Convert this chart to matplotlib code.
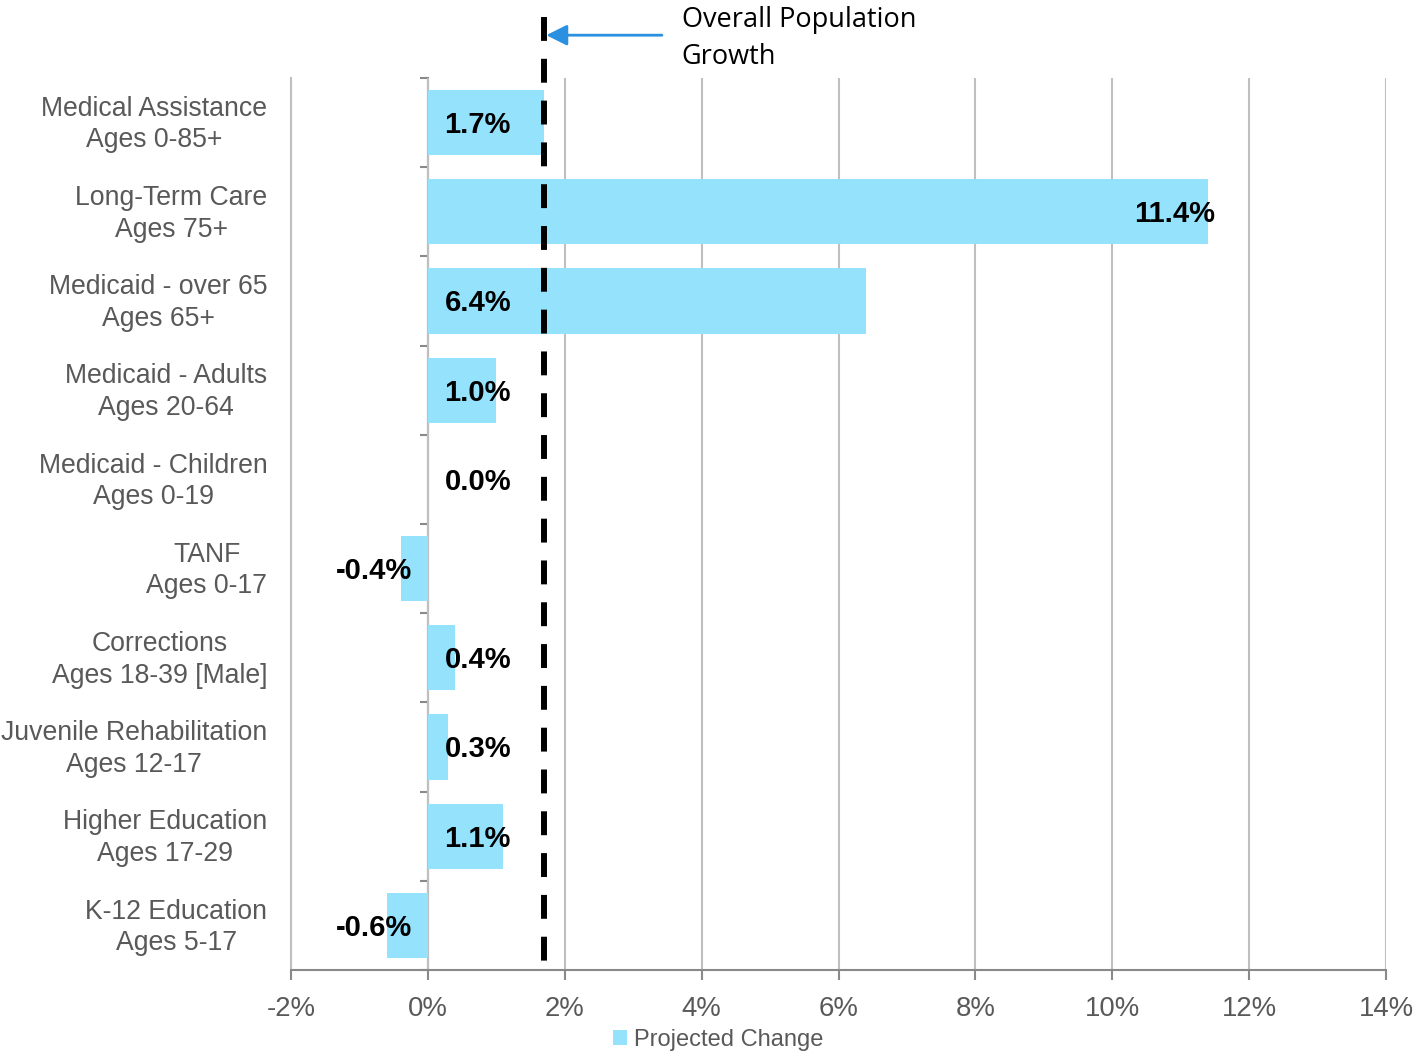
import matplotlib
matplotlib.use("Agg")
import matplotlib.pyplot as plt
from matplotlib.patches import Patch
from matplotlib.lines import Line2D
from matplotlib.ticker import FuncFormatter

categories = [
    "Medical Assistance\nAges 0-85+",
    "Long-Term Care\nAges 75+",
    "Medicaid - over 65\nAges 65+",
    "Medicaid - Adults\nAges 20-64",
    "Medicaid - Children\nAges 0-19",
    "TANF\nAges 0-17",
    "Corrections\nAges 18-39 [Male]",
    "Juvenile Rehabilitation\nAges 12-17",
    "Higher Education\nAges 17-29",
    "K-12 Education\nAges 5-17",
]
values = [1.7, 11.4, 6.4, 1.0, 0.0, -0.4, 0.4, 0.3, 1.1, -0.6]
overall_growth = 1.7
x_ticks = [-2, 0, 2, 4, 6, 8, 10, 12, 14]
series_name = "Projected Change"
annotation_text = "Overall Population\nGrowth"

label_font = ["Liberation Sans", "DejaVu Sans"]
value_font = ["Liberation Sans", "DejaVu Sans"]
note_font = ["Open Sans", "DejaVu Sans"]

BAR = "#95E2FD"
GREY_TXT = "#595959"
AXIS = "#898989"
GRID = "#BFBFBF"

fig = plt.figure(figsize=(14.16, 10.52), dpi=100)
ax = fig.add_axes([291/1416, 1-970/1052, (1386-291)/1416, (970-78)/1052])

ypos = list(range(len(categories)))
ax.barh(ypos, values, height=0.73, color=BAR, zorder=3)

ax.set_xlim(x_ticks[0], x_ticks[-1])
ax.set_ylim(len(categories)-0.5, -0.5)
ax.set_xticks(x_ticks)
ax.xaxis.set_major_formatter(FuncFormatter(lambda v, p: f"{v:.0f}%"))
ax.set_yticks(ypos)
ax.set_yticklabels(categories, ha="right")
for lab in ax.get_yticklabels():
    lab.set_multialignment("center")
    lab.set_linespacing(1.28)
    lab.set_verticalalignment("center")
ax.tick_params(axis="y", length=0, pad=17, labelsize=19.2, labelcolor=GREY_TXT)
ax.tick_params(axis="x", length=7, width=1.5, color=AXIS, pad=12, labelsize=19.8, labelcolor=GREY_TXT)
for lab in ax.get_xticklabels() + ax.get_yticklabels():
    lab.set_fontfamily(label_font)
    if lab in ax.get_yticklabels():
        pass

# nudge category labels slightly down to centre on the bars
import matplotlib.transforms as mtrans
offset = mtrans.ScaledTranslation(0, -2/100, fig.dpi_scale_trans)
for lab in ax.get_yticklabels():
    lab.set_transform(lab.get_transform() + offset)

ax.grid(axis="x", color=GRID, lw=1.5, zorder=0)
ax.grid(axis="y", visible=False)
for s in ["top", "right"]:
    ax.spines[s].set_visible(False)
ax.spines["left"].set_color(GRID)
ax.spines["left"].set_linewidth(1.5)
ax.spines["bottom"].set_color(AXIS)
ax.spines["bottom"].set_linewidth(1.5)

# vertical category axis at 0 with boundary ticks
xmin, xmax = ax.get_xlim()
sec = ax.secondary_yaxis((0 - xmin) / (xmax - xmin))
sec.set_yticks([i + 0.5 for i in range(-1, len(categories))])
sec.tick_params(axis="y", length=6, width=1.5, color=AXIS, labelleft=False, direction="out")
sec.spines["left"].set_color(AXIS)
sec.spines["left"].set_linewidth(1.5)
sec.spines["left"].set_zorder(4)

# value labels
vkw = dict(textcoords="offset points", va="center_baseline", fontsize=21,
           fontweight="bold", family=value_font, color="black", zorder=6)
for y, v in zip(ypos, values):
    if v == max(values):
        ax.annotate(f"{v:.1f}%", (v, y), xytext=(5, 0.5), ha="right", **vkw)
    elif v < 0:
        ax.annotate(f"{v:.1f}%", (0, y), xytext=(-11.5, 0.5), ha="right", **vkw)
    else:
        ax.annotate(f"{v:.1f}%", (0, y), xytext=(12, 0.5), ha="left", **vkw)

# overall population growth dashed line (drawn from top downwards)
ax.add_line(Line2D([overall_growth, overall_growth], [1 + 61/892, 5/892],
                   transform=ax.get_xaxis_transform(), color="black", lw=4.3,
                   dashes=(4.0, 3.0), solid_capstyle="butt", dash_capstyle="butt",
                   clip_on=False, zorder=5))

# annotation arrow
ax.annotate("", xy=(overall_growth + 0.03, 1.048), xycoords=("data", "axes fraction"),
            xytext=(3.42, 1.048), textcoords=("data", "axes fraction"),
            arrowprops=dict(arrowstyle="-|>,head_length=0.7,head_width=0.35", color="#2B90E0",
                            lw=2.0, mutation_scale=18, shrinkA=0, shrinkB=0),
            annotation_clip=False)
ax.text(3.71, 1.044, annotation_text, transform=ax.get_xaxis_transform(),
        ha="left", va="center", fontsize=19.5, family=note_font, color="black",
        linespacing=1.45, clip_on=False)

fig.legend(handles=[Patch(facecolor=BAR, edgecolor="none", label=series_name)],
           loc="center", bbox_to_anchor=(0.507, 1-1040/1052), frameon=False,
           prop={"family": label_font, "size": 17}, labelcolor=GREY_TXT,
           handlelength=0.6, handleheight=0.6, handletextpad=0.3, borderpad=0)

fig.savefig("out.png", dpi=100)
